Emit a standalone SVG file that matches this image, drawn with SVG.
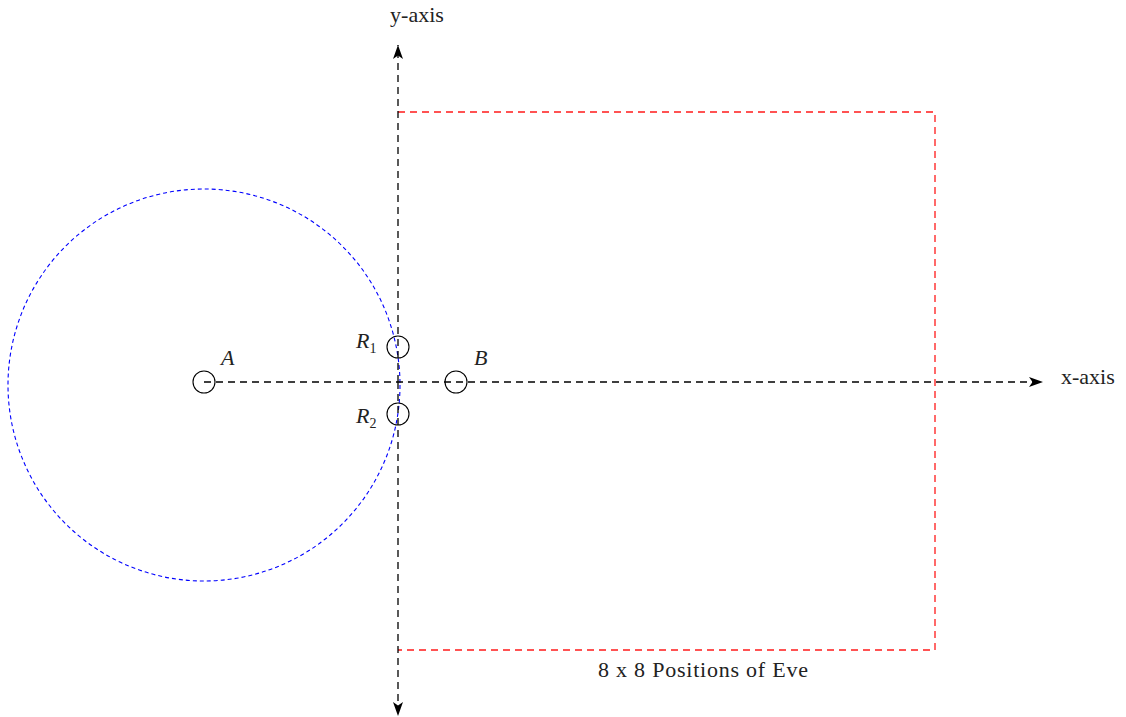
<svg xmlns="http://www.w3.org/2000/svg" width="1126" height="717" viewBox="0 0 1126 717">
<style>
text{font-family:"Liberation Serif","Times New Roman","DejaVu Serif",serif;font-size:22px;fill:#222}
.it{font-style:italic}
.ax{fill:none;stroke:#000;stroke-width:1.3;stroke-dasharray:7 5}
.red{fill:none;stroke:#ff1a1a;stroke-width:1.3;stroke-dasharray:7 5}
.blue{fill:none;stroke:#0000ff;stroke-width:1.1;stroke-dasharray:4 3}
.node{fill:none;stroke:#000;stroke-width:1.1}
</style>
<defs>
<marker id="ah" viewBox="0 0 14 10" refX="14" refY="5" markerWidth="14" markerHeight="10" markerUnits="userSpaceOnUse" orient="auto">
<path d="M0,0 L14,5 L0,10 L3.5,5 Z" fill="#000"/>
</marker>
</defs>
<g id="eve-region"><polyline class="red" points="398,112 935,112 935,650 398,650"/></g>
<g id="range-circle"><circle class="blue" cx="204" cy="385" r="196"/></g>
<g id="connectors">
<line class="ax" x1="204" y1="382" x2="1043" y2="382" marker-end="url(#ah)"/>
<line class="ax" x1="398" y1="382" x2="398" y2="45" marker-end="url(#ah)"/>
<line class="ax" x1="398" y1="382" x2="398" y2="716" marker-end="url(#ah)"/>
</g>
<g id="A"><circle class="node" cx="204" cy="382" r="11"/><text class="it" font-family="Liberation Serif, serif" x="221" y="365">A</text></g>
<g id="B"><circle class="node" cx="456" cy="382" r="11"/><text class="it" font-family="Liberation Serif, serif" x="474" y="365">B</text></g>
<g id="R1"><circle class="node" cx="398" cy="347" r="11"/><text class="it" font-family="Liberation Serif, serif" x="356" y="348">R<tspan font-size="14" dy="5" font-style="normal">1</tspan></text></g>
<g id="R2"><circle class="node" cx="398" cy="414" r="11"/><text class="it" font-family="Liberation Serif, serif" x="356" y="423">R<tspan font-size="14" dy="5" font-style="normal">2</tspan></text></g>
<text font-family="Liberation Serif, serif" x="417" y="22" text-anchor="middle">y-axis</text>
<text font-family="Liberation Serif, serif" x="1061" y="384">x-axis</text>
<text font-family="Liberation Serif, serif" x="598" y="677" textLength="210">8 x 8 Positions of Eve</text>
</svg>
